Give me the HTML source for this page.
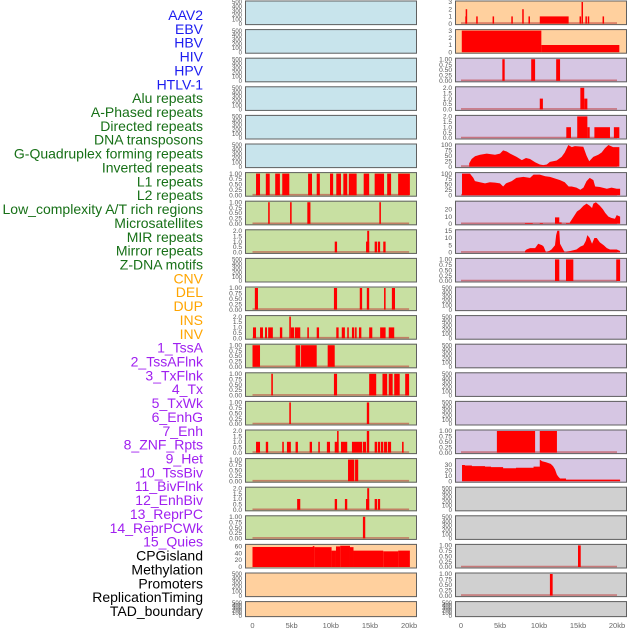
<!DOCTYPE html>
<html><head><meta charset="utf-8">
<style>
html,body{margin:0;padding:0;background:#fff;}
svg{display:block;font-family:"Liberation Sans",sans-serif;}
</style></head>
<body>
<svg id="chart" width="630" height="630" viewBox="0 0 630 630" xmlns="http://www.w3.org/2000/svg"></svg>
<script>
// ---------------- DATA ----------------
const trackLabels = ["AAV2","EBV","HBV","HIV","HPV","HTLV-1","Alu repeats","A-Phased repeats","Directed repeats","DNA transposons","G-Quadruplex forming repeats","Inverted repeats","L1 repeats","L2 repeats","Low_complexity A/T rich regions","Microsatellites","MIR repeats","Mirror repeats","Z-DNA motifs","CNV","DEL","DUP","INS","INV","1_TssA","2_TssAFlnk","3_TxFlnk","4_Tx","5_TxWk","6_EnhG","7_Enh","8_ZNF_Rpts","9_Het","10_TssBiv","11_BivFlnk","12_EnhBiv","13_ReprPC","14_ReprPCWk","15_Quies","CPGisland","Methylation","Promoters","ReplicationTiming","TAD_boundary"];
const labelGroups = ["v","v","v","v","v","v","r","r","r","r","r","r","r","r","r","r","r","r","r","s","s","s","s","s","c","c","c","c","c","c","c","c","c","c","c","c","c","c","c","o","o","o","o","o"];
const xTickKb = [0,5,10,15,20];
const xTickLabels = ["0","5kb","10kb","15kb","20kb"];
const ticks500 = [0,100,200,300,400,500];
const ticks1 = [0,0.25,0.5,0.75,1];
const ticks2 = [0,0.5,1,1.5,2];
const ticks3 = [0,1,2,3];
const ticks100 = [0,25,50,75,100];

// left bars [startKb, endKb, value]
const leftRow6Bars = [[0.45,0.96,1],[1.7,2.2,1],[2.9,3.5,1],[3.8,4.7,1],[7.1,7.6,1],[8.2,8.6,1],[9.9,10.3,1],[10.7,11.3,1],[11.6,12.1,1],[12.3,13.3,1],[14.2,14.9,1],[15.6,16.8,1],[17.2,17.7,1],[18.6,20.1,1]];
const leftRow7Bars = [[2.0,2.2,1],[4.8,5.0,1],[7.0,7.4,1],[16.2,16.4,1]];
const leftRow8Bars = [[10.5,10.8,1],[14.5,14.9,1],[14.65,14.9,2],[15.6,15.9,1],[16.0,16.3,1],[16.7,17.0,1]];
const leftRow10Bars = [[0.3,0.7,1],[10.4,10.8,1],[13.7,14.0,1],[14.6,14.9,1],[16.8,17.0,1],[17.8,18.2,1]];
const leftRow11Bars = [[0.06,0.45,1],[0.96,1.34,1],[1.6,1.85,1],[2.0,2.6,1],[3.5,3.8,1],[4.7,4.9,2],[4.9,5.3,1],[5.4,6.1,1],[7.0,7.2,1],[8.2,8.5,1],[10.7,11.0,1],[11.4,11.8,1],[12.1,12.3,1],[12.7,13.0,1],[13.1,13.3,1],[13.6,13.9,1],[14.9,15.3,1],[16.3,17.0,1],[17.4,18.1,1]];
const leftRow12Bars = [[0,0.96,1],[5.5,6.1,1],[6.2,8.2,1],[9.6,10.5,1]];
const leftRow13Bars = [[2.4,2.6,1],[10.4,10.8,1],[14.9,15.8,1],[16.6,17.2,1],[17.4,17.9,1],[18.1,18.8,1],[19.5,20.0,1]];
const leftRow14Bars = [[4.7,4.9,1],[14.6,14.9,1]];
const leftRow15Bars = [[0.45,0.96,1],[1.7,2.0,1],[3.8,4.0,1],[4.4,4.9,1],[5.5,5.8,1],[7.3,7.6,1],[8.4,8.6,1],[9.5,9.9,1],[10.5,11.0,1],[10.8,11.0,2],[11.3,12.1,1],[12.7,14.0,1],[14.1,14.5,1],[14.6,14.9,2],[15.6,15.9,1],[16.0,16.3,1],[16.4,16.7,1],[16.8,17.2,1],[17.3,17.7,1],[19.1,19.3,1]];
const leftRow16Bars = [[12.2,13.0,1],[13.1,13.5,1]];
const leftRow17Bars = [[5.7,6.1,1],[10.5,10.8,1],[11.8,12.1,1],[14.5,14.9,1],[14.65,14.9,2],[15.6,15.9,1],[16.0,16.3,1]];
const leftRow18Bars = [[14.1,14.4,1]];
const leftCpgBars = [[0,7.77,57.4],[7.7,7.9,60],[7.9,10.1,57],[10.1,10.66,47],[10.66,11.2,59],[11.2,12.45,61],[12.45,12.9,57],[12.9,16.7,47],[16.7,18.6,45],[18.6,20.1,47]];

// right bars
const rightRow0Bars = [[0.55,0.75,1],[0.6,0.7,2],[1.95,2.1,1],[4.05,4.2,1],[6.45,6.6,1],[7.85,8.0,2],[8.65,8.8,1],[10.1,13.8,1],[15.2,15.35,1],[15.45,15.6,3],[15.95,16.1,1],[16.25,16.4,1],[18.15,18.3,1]];
const rightRow1Bars = [[0.1,10.3,3],[10.3,20.3,1]];
const rightRow2Bars = [[5.3,5.6,1],[9.0,9.5,1],[12.2,12.7,1]];
const rightRow3Bars = [[10.1,10.5,1],[15.3,15.8,2],[15.8,16.2,1]];
const rightRow4Bars = [[13.5,14.1,1],[14.9,16.2,2],[16.2,16.5,1],[17.1,19.1,1],[19.6,20.3,1]];
const rightRow9Bars = [[12.05,12.6,1],[13.46,14.4,1],[19.9,20.4,1]];
const rightRow15Bars = [[4.6,9.5,1],[10.1,12.3,1]];
const rightRow19Bars = [[15.0,15.35,1]];
const rightRow20Bars = [[11.4,11.75,1]];

// right area series
const gquadKb  = [1.05,1.36,1.8,2.44,3.3,4.36,5.0,5.4,5.86,6.3,7.13,7.8,8.33,8.85,9.5,10.1,10.55,11.0,11.4,12.26,12.9,13.3,13.76,14.2,14.6,15.68,16.1,16.44,16.96,17.6,18.03,18.45,18.9,19.5,20.3];
const gquadVal = [15,35,48,55,60,55,60,75,70,60,45,30,40,35,20,10,7,10,22,28,45,65,100,90,95,92,50,25,45,55,65,85,100,90,90];
const l1Kb  = [0.13,1.15,1.58,1.79,2.43,3.08,3.7,4.36,5.0,5.4,5.77,6.5,7.1,8.0,8.85,9.3,10.1,10.8,11.4,11.8,12.7,13.3,13.8,14.2,14.8,15.3,15.7,16.1,16.5,16.97,17.2,17.8,18.7,19.3,19.96,20.4];
const l1Val = [100,100,80,65,60,55,60,58,55,40,55,65,80,85,80,95,95,88,85,80,70,60,40,40,35,25,35,65,80,70,40,38,30,35,30,30];
const lowKb  = [8.2,9.2,9.2,10.1,10.1,10.5,10.5,12.05,12.05,12.6,12.6,12.9,12.9,13.46,13.46,13.85,13.85,14.87,15.26,15.7,16.1,16.5,16.8,16.97,17.3,17.8,18.2,18.5,18.9,19.3,19.74,19.96,20.4];
const lowVal = [1,1,0,0,1,1,0,0,9,9,2,2,0,0,1,1,0,17,20,25,28,25,22,28,30,25,20,15,10,8,7,12,10];
const mirKb  = [8.2,8.4,8.85,9.3,9.5,9.9,10.4,10.6,10.9,11.3,11.6,12.05,12.2,12.35,12.6,12.7,13.0,13.3,14.8,15.3,15.7,16.0,16.2,16.5,16.8,17.1,17.4,17.8,18.3,18.7,19.1,19.96,20.4];
const mirVal = [1,2,3,3,3,6,5,4,0,1,2,5,12,15,15,6,3,0,2,4,5,8,12,10,6,10,10,7,5,3,2,2,1];
const tssBivKb  = [0.13,0.5,0.5,1.4,1.4,3.08,3.08,3.85,3.85,5.4,5.4,7.05,7.05,9.3,9.3,10.1,10.1,10.4,10.9,11.5,11.8,12.05,12.3,12.5,12.7,13.46,13.46,20.4];
const tssBivVal = [30,30,29,29,28,28,27,27,26,26,24,24,25,25,27,27,40,37,35,32,28,22,12,8,5,5,3,3];

// ---------------- RENDER ----------------
const NS = "http://www.w3.org/2000/svg";
const svg = document.getElementById("chart");
function mk(tag, attrs, parent) {
  const el = document.createElementNS(NS, tag);
  for (const k in attrs) el.setAttribute(k, attrs[k]);
  (parent || svg).appendChild(el);
  return el;
}
const rowTop = i => 0.5 + i * 28.6;
const rowH = i => (i === 21 ? 16 : 24.6);
const LEFT = {x0: 245, x1: 417, kx0: 252.5, kpx: 7.83};
const RIGHT = {x0: 455, x1: 627, kx0: 461, kpx: 7.8};
const groupColor = {v: "#1c1cf0", r: "#177017", s: "#ffa500", c: "#a020f0", o: "#000"};

trackLabels.forEach((t, i) => {
  const el = mk("text", {x: 203, y: 20 + i * 13.86, "text-anchor": "end", "font-size": 14, fill: groupColor[labelGroups[i]]});
  el.textContent = t;
  
  
});

const blue = "#c8e4ec", green = "#c8e0a2", orange = "#ffd09e", purple = "#d6c6e3", grey = "#d0d0d0";
const leftBg = [blue,blue,blue,blue,blue,blue,green,green,green,green,green,green,green,green,green,green,green,green,green,orange,orange,orange];
const rightBg = [orange,orange,purple,purple,purple,purple,purple,purple,purple,purple,purple,purple,purple,purple,purple,purple,purple,grey,grey,grey,grey,grey];

const leftSpec = {
  6:{max:1,ticks:ticks1,bars:leftRow6Bars},7:{max:1,ticks:ticks1,bars:leftRow7Bars},
  8:{max:2,ticks:ticks2,bars:leftRow8Bars},10:{max:1,ticks:ticks1,bars:leftRow10Bars},
  11:{max:2,ticks:ticks2,bars:leftRow11Bars},12:{max:1,ticks:ticks1,bars:leftRow12Bars},
  13:{max:1,ticks:ticks1,bars:leftRow13Bars},14:{max:1,ticks:ticks1,bars:leftRow14Bars},
  15:{max:2,ticks:ticks2,bars:leftRow15Bars},16:{max:1,ticks:ticks1,bars:leftRow16Bars},
  17:{max:2,ticks:ticks2,bars:leftRow17Bars},18:{max:1,ticks:ticks1,bars:leftRow18Bars},
  19:{max:62,ticks:[0,20,40,60],bars:leftCpgBars,nobase:true}
};
const rightSpec = {
  0:{max:3,ticks:ticks3,bars:rightRow0Bars},1:{max:3,ticks:ticks3,bars:rightRow1Bars,nobase:true},
  2:{max:1,ticks:ticks1,bars:rightRow2Bars},3:{max:2,ticks:ticks2,bars:rightRow3Bars},
  4:{max:2,ticks:ticks2,bars:rightRow4Bars},
  5:{max:100,ticks:ticks100,kb:gquadKb,val:gquadVal},
  6:{max:100,ticks:ticks100,kb:l1Kb,val:l1Val},
  7:{max:30,ticks:[0,10,20],kb:lowKb,val:lowVal},
  8:{max:15,ticks:[0,5,10,15],kb:mirKb,val:mirVal},
  9:{max:1,ticks:ticks1,bars:rightRow9Bars},
  15:{max:1,ticks:ticks1,bars:rightRow15Bars},
  16:{max:40,ticks:[0,10,20,30],kb:tssBivKb,val:tssBivVal,nobase:true},
  19:{max:1,ticks:ticks1,bars:rightRow19Bars},20:{max:1,ticks:ticks1,bars:rightRow20Bars}
};

function fmt(v, ticks) {
  const step = ticks[1] - ticks[0];
  if (step === 0.25) return v.toFixed(2);
  if (step === 0.5) return v.toFixed(1);
  return String(v);
}

function drawPanel(side, i, bg, spec) {
  const top = rowTop(i), h = rowH(i);
  const g = mk("g", {});
  
  
  mk("rect", {x: side.x0, y: top, width: side.x1 - side.x0, height: h, fill: bg}, g);
  const s = spec || {max: 500, ticks: ticks500, empty: true};
  const y = v => top + h - 1.5 - (v / s.max) * (h - 3);
  const x = kb => Math.max(side.x0, Math.min(side.x1, side.kx0 + kb * side.kpx));
  const fs = s.empty ? 6.0 : 6.6;
  s.ticks.forEach(t => {
    const tl = mk("text", {x: side.x0 - 3, y: y(t) + 2.2, "text-anchor": "end", "font-size": fs, fill: "#555"}, g);
    tl.textContent = fmt(t, s.ticks);
    
    
  });
  if (!s.empty && !s.nobase) {
    const bl = mk("line", {x1: x(0), x2: x(20), y1: y(0) - 0.5, y2: y(0) - 0.5, stroke: "rgba(190,50,50,0.55)", "stroke-width": 1.6}, g);
    
    
  }
  if (s.bars) {
    s.bars.forEach(b => {
      const r = mk("rect", {x: x(b[0]), y: y(b[2]), width: Math.max(1.5, x(b[1]) - x(b[0])), height: y(0) - y(b[2]), fill: "#ff0000"}, g);
      
      
    });
  }
  if (s.kb) {
    let pts = x(s.kb[0]) + "," + y(0);
    s.kb.forEach((k, j) => { pts += " " + x(k) + "," + y(s.val[j]); });
    pts += " " + x(s.kb[s.kb.length - 1]) + "," + y(0);
    const p = mk("polygon", {points: pts, fill: "#ff0000"}, g);
    
    
  }
  mk("rect", {x: side.x0 + 0.5, y: top + 0.5, width: side.x1 - side.x0 - 1, height: h - 1, fill: "none", stroke: "#606060", "stroke-width": 1}, g);
}

LEFT.name = "left"; RIGHT.name = "right";
for (let i = 0; i < 22; i++) {
  drawPanel(LEFT, i, leftBg[i], leftSpec[i]);
  drawPanel(RIGHT, i, rightBg[i], rightSpec[i]);
}

[LEFT, RIGHT].forEach(side => {
  xTickKb.forEach((k, j) => {
    const t = mk("text", {x: side.kx0 + k * side.kpx, y: 628, "text-anchor": "middle", "font-size": 7.5, fill: "#666"});
    t.textContent = xTickLabels[j];
    
    
  });
});
</script>
</body></html>
